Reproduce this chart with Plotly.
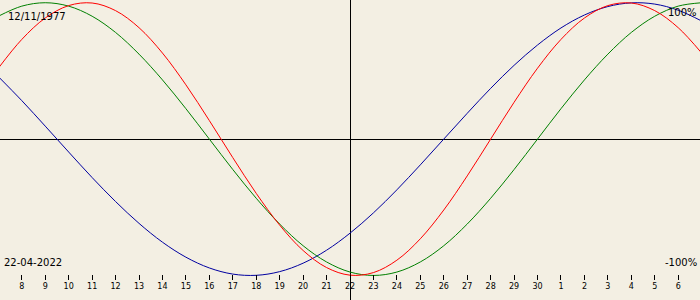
import plotly.graph_objects as go

# day offsets relative to 22-04-2022 (Apr 7 .. May 7)
days = list(range(-15, 16))
tick_days = list(range(-14, 15))
tick_labels = ["8", "9", "10", "11", "12", "13", "14", "15", "16", "17", "18", "19", "20",
               "21", "22", "23", "24", "25", "26", "27", "28", "29", "30",
               "1", "2", "3", "4", "5", "6"]

physical = [0.520, 0.731, 0.888, 0.979, 0.998, 0.942, 0.817, 0.631, 0.398, 0.136,
            -0.136, -0.398, -0.631, -0.817, -0.942, -0.998, -0.979, -0.888, -0.731, -0.520,
            -0.270, 0.0, 0.270, 0.520, 0.731, 0.888, 0.979, 0.998, 0.942, 0.817, 0.631]
emotional = [0.901, 0.975, 1.000, 0.975, 0.901, 0.782, 0.623, 0.434, 0.223, 0.0,
             -0.223, -0.434, -0.623, -0.782, -0.901, -0.975, -1.000, -0.975, -0.901, -0.782,
             -0.623, -0.434, -0.223, 0.0, 0.223, 0.434, 0.623, 0.782, 0.901, 0.975, 1.000]
intellectual = [0.458, 0.282, 0.095, -0.095, -0.282, -0.458, -0.618, -0.756, -0.866, -0.945,
                -0.990, -0.999, -0.972, -0.910, -0.815, -0.690, -0.541, -0.372, -0.189, 0.0,
                0.189, 0.372, 0.541, 0.690, 0.815, 0.910, 0.972, 0.999, 0.990, 0.945, 0.866]

birth_label = "12/11/1977"
date_label = "22-04-2022"

bg = "#F3EFE3"
fig = go.Figure()
fig.add_trace(go.Scatter(x=days, y=intellectual, mode="lines",
                         line=dict(color="#0000A0", width=1, shape="spline")))
fig.add_trace(go.Scatter(x=days, y=emotional, mode="lines",
                         line=dict(color="#008000", width=1, shape="spline")))
fig.add_trace(go.Scatter(x=days, y=physical, mode="lines",
                         line=dict(color="#FF0000", width=1, shape="spline")))

fig.update_layout(
    width=700, height=300, margin=dict(l=0, r=0, t=0, b=0),
    paper_bgcolor=bg, plot_bgcolor=bg, showlegend=False,
    xaxis=dict(range=[-14.93, 14.93], showgrid=False, zeroline=True,
               zerolinecolor="black", zerolinewidth=1,
               tickmode="array", tickvals=tick_days, ticktext=tick_labels,
               ticks="outside", ticklen=5, tickwidth=1, tickcolor="black",
               tickfont=dict(family="DejaVu Sans", size=8, color="black"),
               showline=False, anchor="free", position=0.088),
    yaxis=dict(range=[-1.18, 1.02], showgrid=False, zeroline=True,
               zerolinecolor="black", zerolinewidth=1, showticklabels=False,
               domain=[0, 1]),
)

# text labels placed in pixel positions converted to paper coords
labels = [(birth_label, 6, 17, "left"), ("100%", 699, 12, "right"),
          (date_label, 2, 262, "left"), ("-100%", 699, 262, "right")]
fig.update_layout(annotations=[
    dict(text=t, x=px / 700, y=1 - py / 300, xref="paper", yref="paper",
         xanchor=xa, yanchor="middle", showarrow=False,
         font=dict(family="DejaVu Sans", size=10, color="black"))
    for t, px, py, xa in labels])
fig.write_html("out.html")
